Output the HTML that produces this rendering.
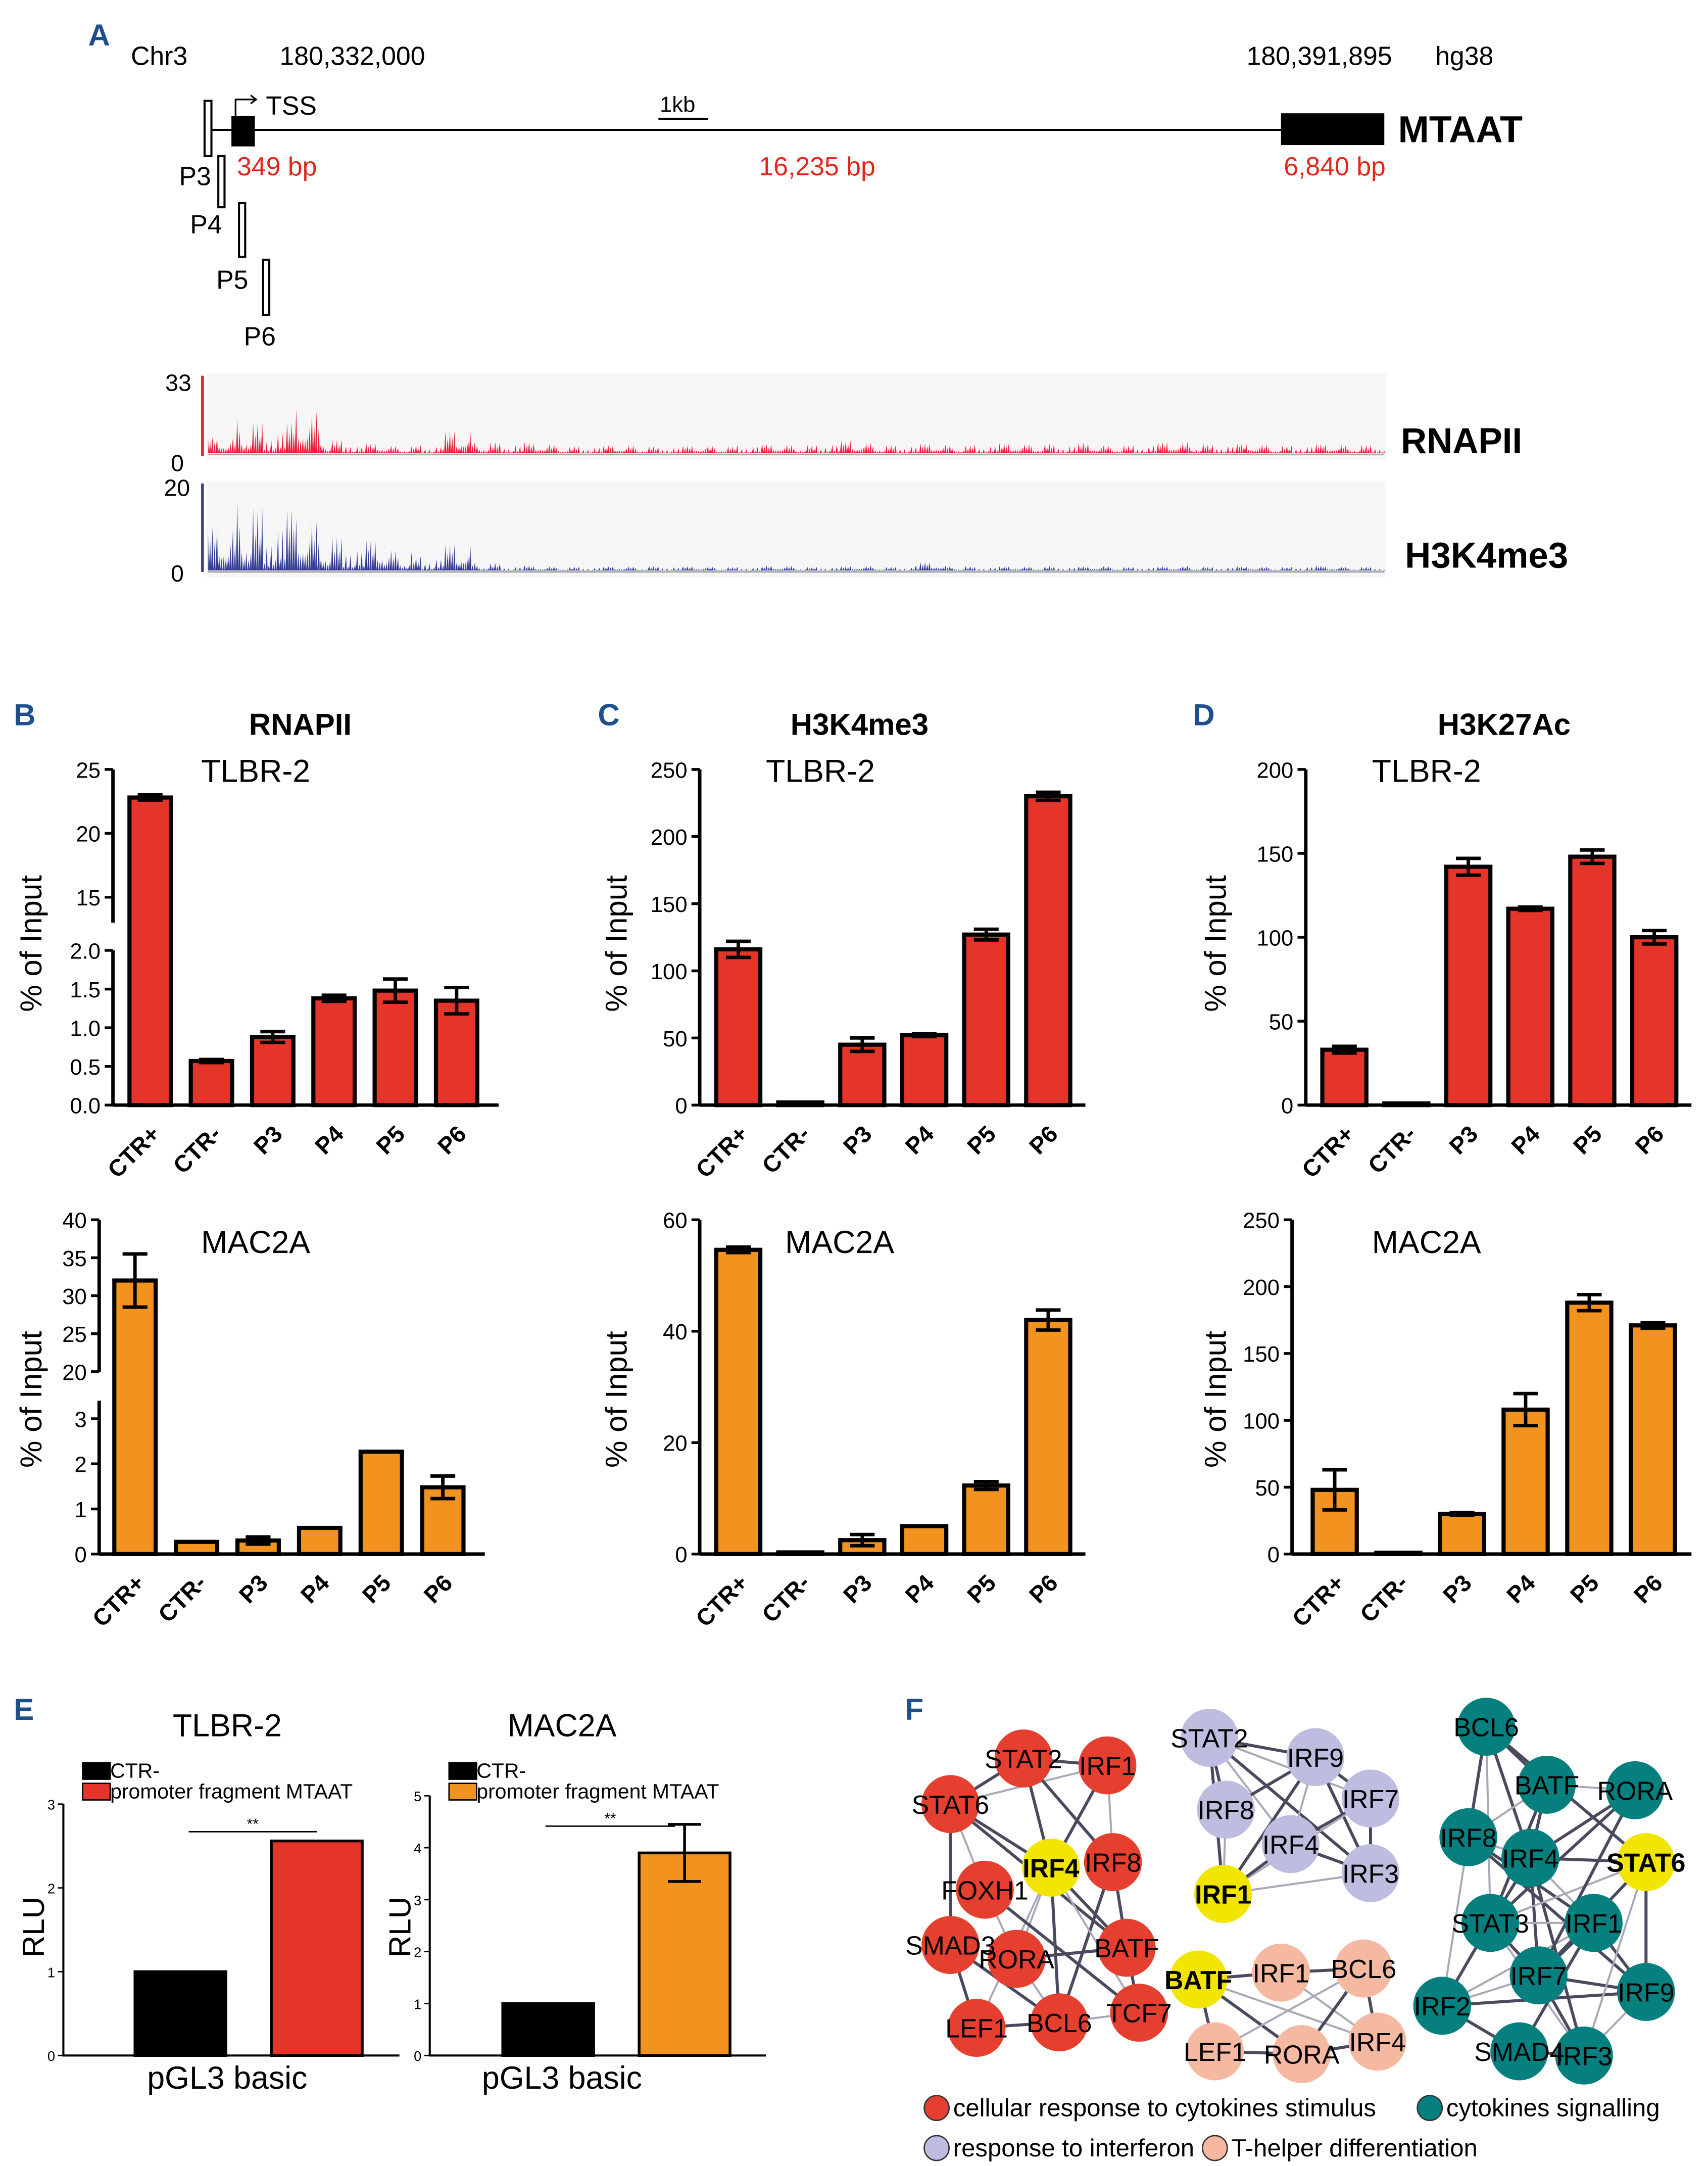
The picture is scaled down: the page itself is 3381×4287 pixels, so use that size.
<!DOCTYPE html>
<html><head><meta charset="utf-8">
<style>
html,body{margin:0;padding:0;background:#fff;}
svg{display:block;font-family:"Liberation Sans",sans-serif;}
</style></head>
<body>
<svg id="fig" width="3381" height="4287" viewBox="0 0 1240 1568" preserveAspectRatio="none" xmlns="http://www.w3.org/2000/svg">
<g>
<text x="64" y="33" font-size="22" font-weight="bold" fill="#1f4e8c">A</text>
<text x="95" y="47" font-size="19">Chr3</text>
<text x="203" y="47" font-size="19">180,332,000</text>
<text x="905" y="47" font-size="19">180,391,895</text>
<text x="1042" y="47" font-size="19">hg38</text>
<line x1="150" y1="94" x2="930" y2="94" stroke="#000" stroke-width="1.5"/>
<rect x="168" y="84" width="17" height="22" fill="#000"/>
<rect x="930" y="82" width="75" height="23" fill="#000"/>
<text x="1015" y="103" font-size="27" font-weight="bold">MTAAT</text>
<path d="M171 84 V72 H186 M182 69 L186 72 L182 75" fill="none" stroke="#000" stroke-width="1.2"/>
<text x="193" y="83" font-size="19">TSS</text>
<text x="479" y="81" font-size="16">1kb</text>
<line x1="478" y1="86" x2="514" y2="86" stroke="#000" stroke-width="1.5"/>
<text x="172" y="127" font-size="19" fill="#e2261c">349 bp</text>
<text x="551" y="127" font-size="19" fill="#e2261c">16,235 bp</text>
<text x="932" y="127" font-size="19" fill="#e2261c">6,840 bp</text>
<rect x="148.5" y="73" width="5" height="40" fill="#fff" stroke="#000" stroke-width="1.5"/>
<rect x="158.5" y="113" width="4.5" height="37" fill="#fff" stroke="#000" stroke-width="1.5"/>
<rect x="173.5" y="147" width="4.5" height="39" fill="#fff" stroke="#000" stroke-width="1.5"/>
<rect x="191" y="188" width="4.5" height="40" fill="#fff" stroke="#000" stroke-width="1.5"/>
<text x="130" y="134" font-size="19">P3</text>
<text x="138" y="169" font-size="19">P4</text>
<text x="157" y="209" font-size="19">P5</text>
<text x="177" y="250" font-size="19">P6</text>
<rect x="150" y="270" width="856" height="63" fill="#f6f6f6"/>
<rect x="150" y="348" width="856" height="70" fill="#f6f6f6"/>
<line x1="147" y1="272" x2="147" y2="330" stroke="#e2261c" stroke-width="2"/>
<line x1="147" y1="350" x2="147" y2="414" stroke="#39408f" stroke-width="2"/>
<text x="120" y="283" font-size="17">33</text>
<text x="124" y="341" font-size="17">0</text>
<text x="119" y="359" font-size="17">20</text>
<text x="124" y="421" font-size="17">0</text>
<g id="tracks"></g>
<text x="1017" y="328" font-size="26" font-weight="bold">RNAPII</text>
<text x="1020" y="411" font-size="26" font-weight="bold">H3K4me3</text>
</g>
<text x="10" y="525" font-size="22" font-weight="bold" fill="#1f4e8c">B</text>
<text x="434" y="525" font-size="22" font-weight="bold" fill="#1f4e8c">C</text>
<text x="866" y="525" font-size="22" font-weight="bold" fill="#1f4e8c">D</text>
<text x="218" y="532" font-size="22" font-weight="bold" text-anchor="middle">RNAPII</text>
<text x="624" y="532" font-size="22" font-weight="bold" text-anchor="middle">H3K4me3</text>
<text x="1092" y="532" font-size="22" font-weight="bold" text-anchor="middle">H3K27Ac</text>
<g id="charts"></g>
<g id="panelE"></g>
<g id="panelF"></g>
</svg>
<script>
// ---------- Panel A track envelopes ----------
const rnapiiEnvelope=[20,45,38,55,20,12,10,12,28,16,14,12,10,10,10,10,9,10,12,11,12,16,14,12,12,11,13,12,14,13,11,12,14,15,13,12,11,12,11,12];
const h3k4Envelope=[50,85,72,60,45,35,25,20,30,10,6,5,5,5,5,6,5,5,5,6,5,5,6,5,10,6,5,5,6,5,6,5,5,6,5,5,5,6,5,5];
// ---------- Panel B-D data ----------
const categories=["CTR+","CTR-","P3","P4","P5","P6"];
const rnapiiTlbrValues=[22.8,0.57,0.88,1.38,1.48,1.35];
const rnapiiTlbrErrors=[0.2,0.02,0.07,0.04,0.15,0.17];
const rnapiiMacValues=[32,0.27,0.3,0.58,2.27,1.48];
const rnapiiMacErrors=[3.5,0.0,0.08,0.0,0.0,0.25];
const h3k4TlbrValues=[116,2,45,52,127,230];
const h3k4TlbrErrors=[6,0,5,1,4,3];
const h3k4MacValues=[54.6,0.3,2.5,5,12.3,42];
const h3k4MacErrors=[0.5,0,1,0,0.7,1.8];
const h3k27TlbrValues=[33,1,142,117,148,100];
const h3k27TlbrErrors=[2,0,5,1,4,4];
const h3k27MacValues=[48,1,30,108,188,171];
const h3k27MacErrors=[15,0,1,12,6,2];
const rnapiiTlbrTicksLow=["0.0","0.5","1.0","1.5","2.0"];
const rnapiiTlbrTicksHigh=["15","20","25"];
const rnapiiMacTicksLow=["0","1","2","3"];
const rnapiiMacTicksHigh=["20","25","30","35","40"];
const h3k4TlbrTicks=["0","50","100","150","200","250"];
const h3k4MacTicks=["0","20","40","60"];
const h3k27TlbrTicks=["0","50","100","150","200"];
const h3k27MacTicks=["0","50","100","150","200","250"];
// ---------- Panel E data ----------
const rluGroups=["CTR-","promoter fragment MTAAT"];
const rluTlbrValues=[1,2.56];
const rluTlbrErrors=[0,0.01];
const rluMacValues=[1,3.9];
const rluMacErrors=[0,0.55];
const rluTlbrTicks=["0","1","2","3"];
const rluMacTicks=["0","1","2","3","4","5"];

const NS="http://www.w3.org/2000/svg";
function mk(tag,attrs,parent,txt){const e=document.createElementNS(NS,tag);for(const k in attrs)e.setAttribute(k,attrs[k]);if(txt!==undefined)e.textContent=txt;parent.appendChild(e);return e;}

// tracks
(function(){
 const g=document.getElementById('tracks');
 const pat=[1,0.3,0.6,0.15,0.85,0.4,0.2,0.7,0.35,0.95,0.25,0.5,0.1,0.65];
 function track(env,x0,x1,yb,maxH,color,name){
  let d="M"+x0+" "+yb;const n=520;
  for(let i=0;i<=n;i++){const x=x0+(x1-x0)*i/n;const ei=Math.min(env.length-1,Math.floor(i/n*env.length));
   const f=pat[(i*7+Math.floor(i/5))%pat.length];const h=maxH*env[ei]/100*f;d+=" L"+x.toFixed(1)+" "+(yb-h).toFixed(1)+" L"+(x+0.6).toFixed(1)+" "+yb;}
  d+=" L"+x1+" "+yb+" Z";
  const p=mk('path',{d:d,fill:color},g);
  
  
  const l=mk('line',{x1:x0,x2:x1,y1:yb+1,y2:yb+1,stroke:'#aaa','stroke-width':1.2},g);
  
  
 }
 track(rnapiiEnvelope,151,1005,328,58,'#e5203a','rnapii-signal');
 track(h3k4Envelope,151,1005,413,62,'#343c96','h3k4me3-signal');
})();

// bar chart generator
function barChart(o){
 const g=mk('g',{},document.getElementById('charts'));
 
 
 function y(v){for(const s of o.segs){if(v>=s.v0&&v<=s.v1)return s.y0+(v-s.v0)/(s.v1-s.v0)*(s.y1-s.y0);}
   const s=o.segs[o.segs.length-1];return s.y1;}
 function yc(v){
   const last=o.segs[o.segs.length-1];if(v>last.v1)return last.y1;
   for(const s of o.segs){if(v<=s.v1&&v>=s.v0)return y(v);} return o.segs[0].y1;}
 o.vals.forEach((v,i)=>{
  const cx=o.x0+o.step*i,w=o.bw,top=yc(v);
  const r=mk('rect',{x:cx-w/2,y:top,width:w,height:o.segs[0].y0-top,fill:o.color,stroke:'#000','stroke-width':3},g);
  
  
  const e=o.errs[i];
  const y1=yc(v+e),y2=yc(Math.max(0,v-e));
  const el=mk('path',{d:`M${cx} ${y1} V${y2} M${cx-9} ${y1} H${cx+9} M${cx-9} ${y2} H${cx+9}`,stroke:'#000','stroke-width':2.5,fill:'none'},g);
  
  
  const t=mk('text',{x:cx+8,y:o.segs[0].y0+22,'font-size':17,'font-weight':'bold','text-anchor':'end',transform:`rotate(-45 ${cx+8} ${o.segs[0].y0+22})`},g,categories[i]);
  
  
 });
 o.segs.forEach((s)=>{
  const ax=mk('line',{x1:o.ax,x2:o.ax,y1:s.y0,y2:s.y1,stroke:'#000','stroke-width':2.5},g);
  
  
  s.ticks.forEach(tl=>{const yy=y(parseFloat(tl));
   const tk=mk('line',{x1:o.ax-6,x2:o.ax,y1:yy,y2:yy,stroke:'#000','stroke-width':2},g);
   
   
   const tt=mk('text',{x:o.ax-9,y:yy+6,'font-size':16,'text-anchor':'end'},g,tl);
   
   });
 });
 const xa=mk('line',{x1:o.ax,x2:o.xEnd,y1:o.segs[0].y0,y2:o.segs[0].y0,stroke:'#000','stroke-width':2.5},g);
 
 
 const yl=mk('text',{x:o.lx,y:o.ly,'font-size':22,'text-anchor':'middle',transform:`rotate(-90 ${o.lx} ${o.ly})`},g,'% of Input');
 
 
 const st=mk('text',{x:o.tx,y:o.ty,'font-size':23},g,o.sub);
 
 
}
barChart({name:'chart-rnapii-tlbr2',ax:82,xEnd:362,x0:109,step:44.5,bw:30,color:'#e5342a',vals:rnapiiTlbrValues,errs:rnapiiTlbrErrors,
 segs:[{v0:0,v1:2,y0:800,y1:688,ticks:rnapiiTlbrTicksLow},{v0:13,v1:25,y0:668,y1:557,ticks:rnapiiTlbrTicksHigh}],lx:30,ly:683,tx:146,ty:566,sub:'TLBR-2'});
barChart({name:'chart-rnapii-mac2a',ax:72,xEnd:352,x0:98,step:44.7,bw:30,color:'#f3931f',vals:rnapiiMacValues,errs:rnapiiMacErrors,
 segs:[{v0:0,v1:3.4,y0:1125,y1:1014,ticks:rnapiiMacTicksLow},{v0:20,v1:40,y0:993,y1:883,ticks:rnapiiMacTicksHigh}],lx:30,ly:1013,tx:146,ty:907,sub:'MAC2A'});
barChart({name:'chart-h3k4me3-tlbr2',ax:508,xEnd:788,x0:536,step:45,bw:32,color:'#e5342a',vals:h3k4TlbrValues,errs:h3k4TlbrErrors,
 segs:[{v0:0,v1:250,y0:800,y1:557,ticks:h3k4TlbrTicks}],lx:455,ly:683,tx:556,ty:566,sub:'TLBR-2'});
barChart({name:'chart-h3k4me3-mac2a',ax:508,xEnd:788,x0:536,step:45,bw:32,color:'#f3931f',vals:h3k4MacValues,errs:h3k4MacErrors,
 segs:[{v0:0,v1:60,y0:1125,y1:883,ticks:h3k4MacTicks}],lx:455,ly:1013,tx:570,ty:907,sub:'MAC2A'});
barChart({name:'chart-h3k27ac-tlbr2',ax:948,xEnd:1228,x0:976,step:45,bw:32,color:'#e5342a',vals:h3k27TlbrValues,errs:h3k27TlbrErrors,
 segs:[{v0:0,v1:200,y0:800,y1:557,ticks:h3k27TlbrTicks}],lx:890,ly:683,tx:996,ty:566,sub:'TLBR-2'});
barChart({name:'chart-h3k27ac-mac2a',ax:938,xEnd:1228,x0:969,step:46.2,bw:32,color:'#f3931f',vals:h3k27MacValues,errs:h3k27MacErrors,
 segs:[{v0:0,v1:250,y0:1125,y1:883,ticks:h3k27MacTicks}],lx:890,ly:1013,tx:996,ty:907,sub:'MAC2A'});

// Panel E
(function(){
 const G=document.getElementById('panelE');
 const lab=mk('text',{x:10,y:1245,'font-size':22,'font-weight':'bold',fill:'#1f4e8c'},G,'E');
 
 
 function rlu(o){
  const g=mk('g',{},G);
  
  
  const y=v=>o.yb-v/o.vmax*(o.yb-o.yt);
  const cols=['#000',o.color];
  o.vals.forEach((v,i)=>{const cx=o.x0+i*o.step;
   const r=mk('rect',{x:cx-33,y:y(v),width:66,height:o.yb-y(v),fill:cols[i],stroke:'#000','stroke-width':2},g);
   
   
   if(o.errs[i]>0.05){const y1=y(v+o.errs[i]),y2=y(v-o.errs[i]);
    const e=mk('path',{d:`M${cx} ${y1} V${y2} M${cx-12} ${y1} H${cx+12} M${cx-12} ${y2} H${cx+12}`,stroke:'#000','stroke-width':2,fill:'none'},g);
    
    }
  });
  const a=mk('path',{d:`M${o.ax} ${o.yt} V${o.yb} H${o.xe}`,stroke:'#000','stroke-width':1.5,fill:'none'},g);
  
  
  o.ticks.forEach(t=>{const yy=y(parseFloat(t));
   const l=mk('line',{x1:o.ax-4,x2:o.ax,y1:yy,y2:yy,stroke:'#000','stroke-width':1},g);
   
   
   const tt=mk('text',{x:o.ax-6,y:yy+4,'font-size':10,'text-anchor':'end'},g,t);
   
   });
  const yl=mk('text',{x:o.ax-14,y:1395,'font-size':22,'text-anchor':'middle',transform:`rotate(-90 ${o.ax-14} 1395)`},g,'RLU');
  
  
  const t=mk('text',{x:o.tx,y:1257,'font-size':23,'text-anchor':'middle'},g,o.title);
  
  
  rluGroups.forEach((gname,i)=>{
   const sw=mk('rect',{x:o.ax+14,y:1276+i*15,width:20,height:12,fill:cols[i],stroke:'#000','stroke-width':1},g);
   
   
   const lt=mk('text',{x:o.ax+34,y:1287+i*15,'font-size':15},g,gname);
   
   });
  const s=mk('line',{x1:o.s1,x2:o.s2,y1:o.sy,y2:o.sy,stroke:'#000','stroke-width':1},g);
  
  
  const st=mk('text',{x:(o.s1+o.s2)/2,y:o.sy-2,'font-size':11,'text-anchor':'middle'},g,'**');
  
  
  const xl=mk('text',{x:o.tx,y:1512,'font-size':23,'text-anchor':'middle'},g,'pGL3 basic');
  
  
 }
 rlu({name:'chart-rlu-tlbr2',ax:46,xe:290,yb:1488,yt:1306,vmax:3,x0:131,step:99,vals:rluTlbrValues,errs:rluTlbrErrors,color:'#e5342a',ticks:rluTlbrTicks,tx:165,title:'TLBR-2',s1:137,s2:230,sy:1326});
 rlu({name:'chart-rlu-mac2a',ax:312,xe:556,yb:1488,yt:1300,vmax:5,x0:398,step:99,vals:rluMacValues,errs:rluMacErrors,color:'#f3931f',ticks:rluMacTicks,tx:408,title:'MAC2A',s1:396,s2:490,sy:1322});
})();

// Panel F network
(function(){
 const G=document.getElementById('panelF');
 const lab=mk('text',{x:657,y:1245,'font-size':22,'font-weight':'bold',fill:'#1f4e8c'},G,'F');
 
 
 const C={r:'#e5402f',l:'#bdbedf',p:'#f4b9a0',t:'#06807e',y:'#f2e600'};
 const clusters=[
  {id:'red',nodes:[['STAT2',743,1273,'r'],['IRF1',804,1278,'r'],['STAT6',690,1306,'r'],['IRF4',763,1352,'y'],['IRF8',808,1348,'r'],['FOXH1',715,1368,'r'],['SMAD3',690,1408,'r'],['RORA',738,1418,'r'],['BATF',818,1410,'r'],['LEF1',709,1468,'r'],['BCL6',769,1464,'r'],['TCF7',827,1457,'r']],
   edges:[[0,1],[0,2],[2,1],[0,3],[1,3],[1,4],[0,4],[2,3],[2,5],[2,6],[2,8],[3,7],[3,8],[3,10],[3,9],[4,8],[4,10],[5,7],[6,9],[7,8],[7,10],[8,11],[9,10],[10,11],[5,11],[6,10],[3,11]]},
  {id:'lav',nodes:[['STAT2',878,1258,'l'],['IRF9',955,1272,'l'],['IRF8',890,1310,'l'],['IRF7',995,1302,'l'],['IRF4',937,1335,'l'],['IRF3',995,1356,'l'],['IRF1',888,1371,'y']],
   edges:[[0,1],[0,2],[0,4],[0,5],[0,6],[0,3],[1,2],[1,3],[1,4],[1,6],[1,5],[2,6],[3,4],[3,5],[3,6],[4,6],[4,5],[6,5]]},
  {id:'peach',nodes:[['BATF',870,1433,'y'],['IRF1',930,1428,'p'],['BCL6',990,1425,'p'],['LEF1',882,1485,'p'],['RORA',945,1487,'p'],['IRF4',1000,1478,'p']],
   edges:[[0,1],[1,2],[0,5],[0,4],[0,3],[1,5],[2,5],[2,4],[2,3],[3,4],[4,5]]},
  {id:'teal',nodes:[['BCL6',1079,1250,'t'],['BATF',1123,1292,'t'],['RORA',1187,1296,'t'],['IRF8',1066,1330,'t'],['IRF4',1111,1345,'t'],['STAT6',1195,1348,'y'],['STAT3',1082,1392,'t'],['IRF1',1157,1392,'t'],['IRF7',1117,1430,'t'],['IRF9',1195,1442,'t'],['IRF2',1047,1452,'t'],['SMAD4',1103,1485,'t'],['IRF3',1150,1488,'t']],
   edges:[[0,1],[0,4],[0,6],[0,3],[0,5],[1,2],[1,4],[1,6],[1,3],[2,4],[2,6],[3,4],[3,7],[3,9],[3,10],[4,5],[4,6],[4,7],[4,8],[4,12],[5,6],[5,8],[5,9],[6,7],[6,8],[6,10],[6,12],[7,8],[7,9],[7,10],[7,11],[8,9],[8,10],[8,12],[9,10],[9,12],[10,11],[11,12],[5,12],[2,8]]}
 ];
 clusters.forEach(cl=>{
  const g=mk('g',{},G);
  
  
  cl.edges.forEach((e,i)=>{const a=cl.nodes[e[0]],b=cl.nodes[e[1]];
   const l=mk('line',{x1:a[1],y1:a[2],x2:b[1],y2:b[2],stroke:i%3===2?'#a9a9b8':'#4a4a5e','stroke-width':i%3===2?1.5:2.2},g);
   
   });
  cl.nodes.forEach(n=>{
   const c=mk('circle',{cx:n[1],cy:n[2],r:21,fill:C[n[3]]},g);
   
   });
  cl.nodes.forEach(n=>{
   const t=mk('text',{x:n[1],y:n[2]+7,'font-size':19,'text-anchor':'middle','font-weight':n[3]==='y'?'bold':'normal'},g,n[0]);
   
   });
 });
 const leg=[[C.r,680,1526,'cellular response to cytokines stimulus'],[C.t,1038,1526,'cytokines signalling'],[C.l,680,1555,'response to interferon'],[C.p,882,1555,'T-helper differentiation']];
 leg.forEach(L=>{
  const c=mk('circle',{cx:L[1],cy:L[2],r:9,fill:L[0],stroke:'#333','stroke-width':1},G);
  
  
  const t=mk('text',{x:L[1]+12,y:L[2]+6,'font-size':18},G,L[3]);
  
  
 });
})();
</script>
</body></html>
